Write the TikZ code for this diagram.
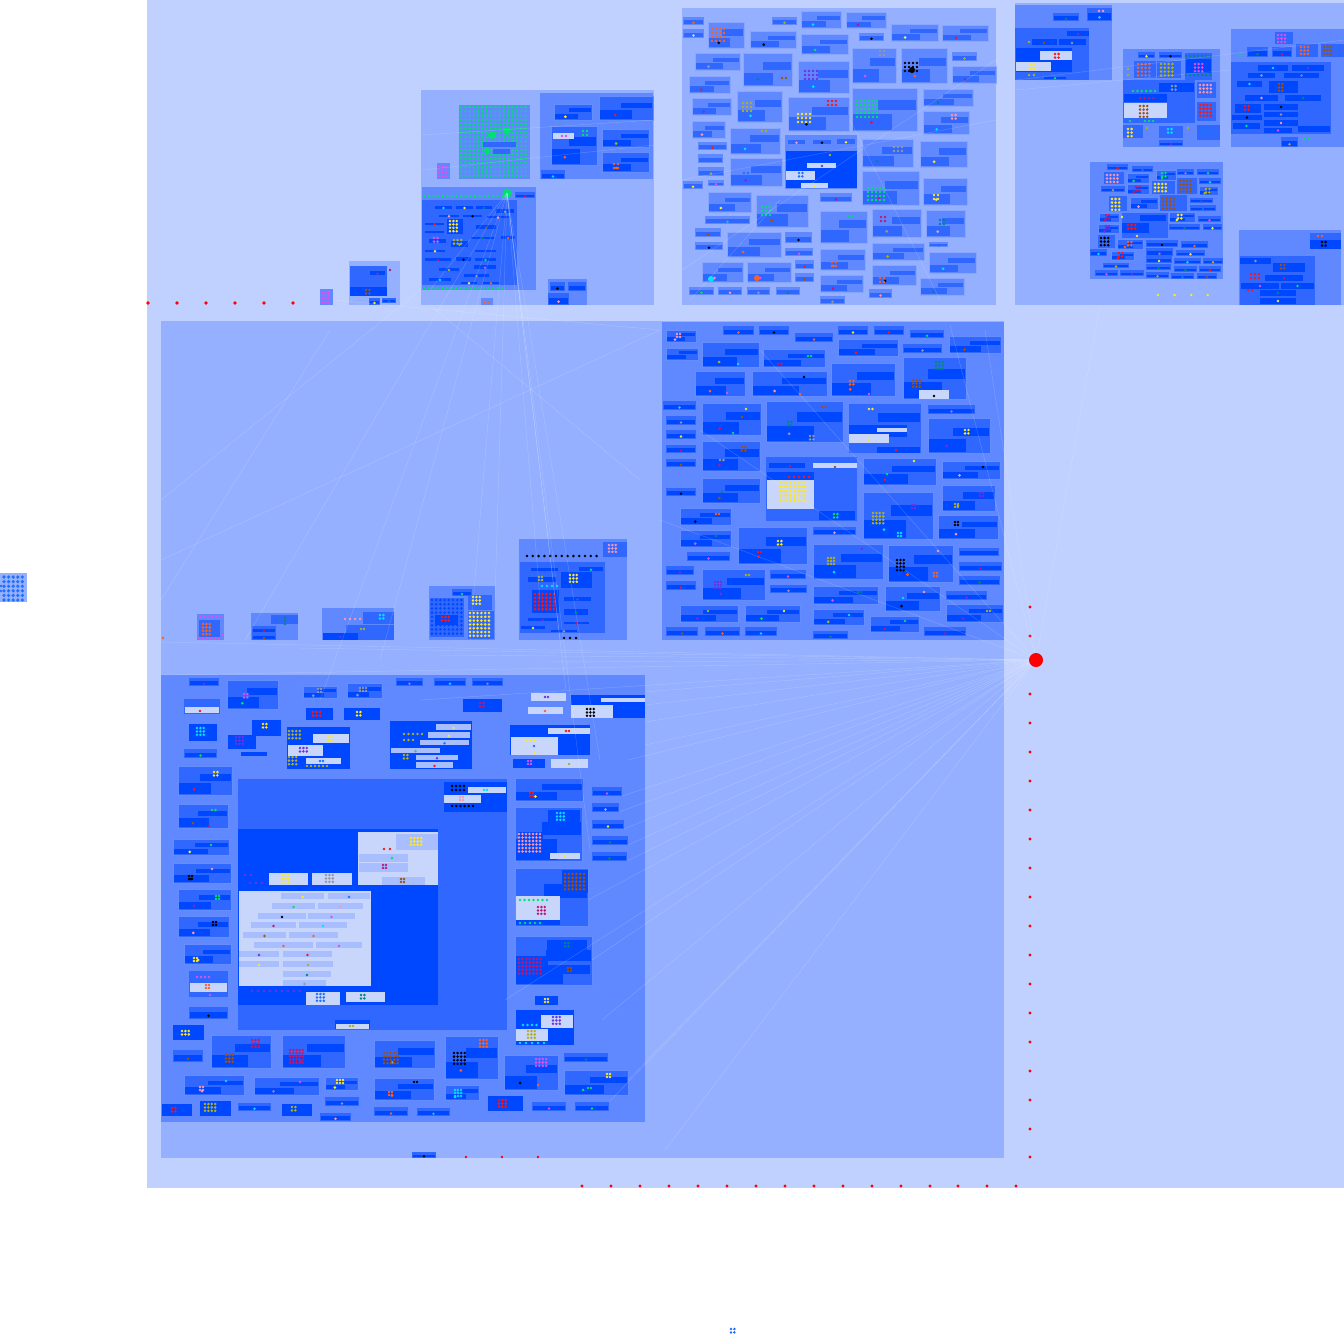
\documentclass[tikz,border=0pt]{standalone}
\definecolor{cLa}{RGB}{192,208,255}
\definecolor{cLb}{RGB}{148,176,255}
\definecolor{cLc}{RGB}{96,136,255}
\definecolor{cLd}{RGB}{48,104,255}
\definecolor{cLe}{RGB}{0,72,255}
\definecolor{cPl}{RGB}{200,214,252}
\definecolor{cPb}{RGB}{168,190,255}
\definecolor{dR}{RGB}{255,20,20}
\definecolor{dO}{RGB}{255,96,32}
\definecolor{dY}{RGB}{255,232,40}
\definecolor{dG}{RGB}{0,224,112}
\definecolor{dC}{RGB}{0,224,255}
\definecolor{dP}{RGB}{255,150,170}
\definecolor{dM}{RGB}{224,80,240}
\definecolor{dV}{RGB}{112,48,224}
\definecolor{dB}{RGB}{160,80,16}
\definecolor{dL}{RGB}{176,176,32}
\definecolor{dT}{RGB}{0,136,120}
\definecolor{dK}{RGB}{0,0,0}
\definecolor{dA}{RGB}{150,150,165}
\definecolor{dU}{RGB}{32,112,255}
\definecolor{dX}{RGB}{192,24,112}
% block: x1 y1 x2 y2 colour
\newcommand{\bk}[5]{\fill[#5] (#1,#2) rectangle (#3,#4);}
% sub-block with two bars, outer L3 / bars L4
\newcommand{\sba}[5]{%
 \fill[cLc] (#1,#2) rectangle (#3,#4);
 \draw[cLc!75!white,line width=0.35pt] (#1,#2) rectangle (#3,#4);
 \fill[cLd] ({#1+0.4*(#3-#1)},{#2+0.28*(#4-#2)}) rectangle ({#3-1},{#2+0.52*(#4-#2)});
 \fill[cLd] ({#1+1},{#2+0.6*(#4-#2)}) rectangle ({#1+0.62*(#3-#1)},{#4-1});
 \fill[#5] ({#1+0.3*(#3-#1)},{#2+0.8*(#4-#2)}) circle (1.5);}
\newcommand{\ssa}[5]{%
 \fill[cLc] (#1,#2) rectangle (#3,#4);
 \fill[cLd] ({#1+1},{#2+0.42*(#4-#2)}) rectangle ({#3-1},{#4-1});
 \fill[#5] ({0.5*(#1+#3)},{#2+0.72*(#4-#2)}) circle (1.4);}
% outer L4 / bars L5
\newcommand{\sbb}[5]{%
 \fill[cLd] (#1,#2) rectangle (#3,#4);
 \draw[cLd!75!white,line width=0.35pt] (#1,#2) rectangle (#3,#4);
 \fill[cLe] ({#1+0.4*(#3-#1)},{#2+0.28*(#4-#2)}) rectangle ({#3-1},{#2+0.52*(#4-#2)});
 \fill[cLe] ({#1+1},{#2+0.6*(#4-#2)}) rectangle ({#1+0.62*(#3-#1)},{#4-1});
 \fill[#5] ({#1+0.3*(#3-#1)},{#2+0.8*(#4-#2)}) circle (1.5);}
\newcommand{\ssb}[5]{%
 \fill[cLd] (#1,#2) rectangle (#3,#4);
 \fill[cLe] ({#1+1},{#2+0.42*(#4-#2)}) rectangle ({#3-1},{#4-1});
 \fill[#5] ({0.5*(#1+#3)},{#2+0.72*(#4-#2)}) circle (1.4);}
% pale bar with dot
\newcommand{\pb}[5]{%
 \fill[cPb] (#1,#2) rectangle (#3,#4);
 \fill[#5] ({0.5*(#1+#3)},{#2+0.65*(#4-#2)}) circle (1.4);}
% dot grid: x y cols rows colour step
\newcommand{\dg}[6]{%
 \foreach \ii in {1,...,#3}{\foreach \jj in {1,...,#4}{%
  \fill[#5] ({#1+(\ii-1)*#6},{#2+(\jj-1)*#6}) circle (1.4);}}}
\begin{document}
\begin{tikzpicture}[x=1pt,y=-1pt,
  link/.style={draw=white,opacity=0.2,line width=0.45pt}]
\useasboundingbox (0,0) rectangle (1344,1334);
\fill[white] (0,0) rectangle (1344,1334);
% ===== outer frame =====
\bk{147}{0}{1344}{1188}{cLa}
% left stray block and bottom stray
\bk{0}{573}{27}{602}{cLb}
\foreach \ii in {1,...,5}{\foreach \jj in {1,...,6}{\fill[dU] ({4+(\ii-1)*4.6},{577+(\jj-1)*4.6}) circle (1.8);}}
\dg{1}{586}{1}{2}{dU}{5}
\dg{731}{1329}{2}{2}{dU}{3.4}
% ===== top-left cluster =====
\bk{421}{90}{654}{305}{cLb}
\bk{459}{105}{530}{179}{cLc}
\dg{461}{107}{16}{17}{dG}{4.3}
\fill[dG] (492,135) circle (4); \fill[dG] (507,131) circle (4); \fill[dG] (487,151) circle (3);
\bk{483}{142}{516}{147}{cLd}\bk{493}{149}{510}{154}{cLd}
\bk{437}{163}{450}{179}{cLc}\dg{439}{166}{3}{4}{dM}{3.4}
\bk{540}{93}{653}{179}{cLc}
\sbb{554}{104}{592}{120}{dY}
\sbb{599}{96}{653}{120}{dR}
\sbb{551}{126}{597}{165}{dO}
\fill[cPl] (553,133) rectangle (574,139); \dg{562}{136}{2}{1}{dM}{4}
\dg{583}{131}{2}{2}{dG}{4}
\sbb{602}{129}{649}{147}{dL}
\sbb{602}{152}{649}{172}{dO}\dg{614}{164}{2}{2}{dO}{4}
\ssb{541}{170}{565}{179}{dC}
\bk{422}{187}{536}{290}{cLc}
\bk{422}{200}{517}{285}{cLd}
\dg{424}{196}{18}{1}{dG}{4.6}
\dg{424}{288}{18}{1}{dG}{4.6}
\fill[dG] (507,193) circle (4.5);
\ssb{515}{192}{535}{198}{dX}
\ssb{434}{203}{453}{210}{dC}\ssb{455}{203}{474}{210}{dY}\ssb{475}{203}{493}{210}{dT}
\ssb{438}{212}{460}{218}{dP}\ssb{462}{212}{483}{218}{dK}\ssb{495}{206}{515}{214}{dA}
\ssb{424}{220}{445}{226}{dR}\ssb{424}{228}{445}{234}{cLe}
\bk{447}{219}{463}{234}{cLe}\dg{450}{221}{3}{4}{dY}{3.4}
\ssb{475}{222}{497}{230}{dB}\ssb{486}{214}{510}{219}{dP}
\ssb{428}{236}{447}{244}{dM}\dg{434}{238}{2}{2}{dM}{3.6}
\ssb{450}{236}{469}{248}{dL}\dg{454}{240}{3}{2}{dL}{3.6}
\ssb{470}{234}{495}{240}{dT}\ssb{500}{233}{516}{240}{dO}
\ssb{424}{247}{446}{253}{dY}\ssb{424}{255}{452}{262}{dX}
\ssb{455}{254}{472}{262}{dK}\ssb{474}{247}{497}{253}{dV}\ssb{474}{255}{497}{262}{dG}
\ssb{438}{265}{460}{272}{dL}\ssb{473}{262}{497}{270}{dM}
\ssb{428}{275}{452}{282}{dC}\ssb{463}{271}{490}{278}{dA}
\ssb{460}{279}{478}{285}{dY}\ssb{482}{279}{500}{285}{dO}
\bk{548}{279}{587}{305}{cLc}
\ssb{550}{282}{565}{291}{dK}\ssb{568}{282}{586}{291}{cLe}
\ssb{548}{293}{569}{305}{dP}
\bk{481}{298}{493}{305}{cLc}\dg{484}{302}{2}{1}{dO}{4}
% small blocks left of it
\bk{349}{261}{400}{305}{cLb}
\bk{350}{266}{387}{296}{cLd}
\bk{350}{287}{387}{296}{cLe}
\ssb{369}{268}{386}{276}{dR}\fill[dX] (390,270) circle (1.4);
\dg{366}{290}{2}{2}{dB}{3.5}
\ssb{369}{298}{380}{305}{dY}
\ssb{382}{298}{396}{303}{dU}
\bk{320}{289}{333}{305}{cLc}\dg{322}{292}{3}{4}{dM}{3.4}
\foreach \xx in {148,177,206,235,264,293} \fill[red] (\xx,303) circle (1.8);
% ===== top-middle cluster =====
\bk{682}{8}{996}{305}{cLb}
\ssa{683}{17}{704}{25}{dO}\ssa{683}{29}{704}{38}{dY}
\sba{708}{22}{744}{48}{dK}\dg{712}{29}{4}{4}{dO}{4}
\sba{695}{53}{740}{70}{dA}
\sba{689}{76}{730}{93}{dR}
\sba{692}{98}{731}{115}{dV}
\sba{692}{121}{725}{138}{dP}
\ssa{698}{142}{727}{150}{dR}\ssa{698}{154}{723}{163}{dU}\ssa{698}{167}{724}{176}{dL}
\ssa{683}{181}{703}{189}{dY}\ssa{708}{180}{724}{186}{dM}
\sba{708}{192}{751}{212}{dY}
\ssa{705}{216}{750}{224}{dG}
\ssa{695}{228}{721}{237}{dB}\ssa{695}{242}{723}{250}{dK}
\sba{702}{262}{743}{282}{dP}\fill[dC] (711,279) circle (3);
\ssa{689}{287}{714}{295}{dG}\ssa{718}{287}{742}{295}{dP}\ssa{747}{287}{770}{295}{dA}\ssa{776}{287}{800}{295}{dT}
\sba{750}{31}{796}{48}{dK}
\sba{743}{53}{792}{86}{dT}\dg{782}{78}{2}{1}{dB}{4}
\ssa{772}{17}{797}{25}{dL}
\sba{801}{11}{841}{28}{dC}
\sba{846}{12}{886}{28}{dX}
\sba{801}{34}{848}{54}{dG}
\sba{798}{61}{849}{93}{dC}\dg{805}{71}{4}{3}{dV}{4}
\ssa{859}{33}{884}{41}{dK}
\sba{891}{24}{938}{41}{dY}
\sba{942}{25}{988}{41}{dR}
\sba{852}{48}{896}{83}{dM}\dg{880}{51}{2}{2}{dA}{4}
\sba{901}{48}{947}{83}{dO}\dg{905}{63}{4}{3}{dK}{4}\fill[dK] (912,70) circle (3);
\ssa{952}{52}{977}{61}{dL}
\sba{952}{66}{996}{83}{dX}
\sba{737}{91}{782}{122}{dC}\dg{743}{103}{3}{3}{dL}{4}
\sba{788}{97}{849}{131}{dK}\dg{798}{114}{4}{3}{dY}{4}\dg{828}{101}{3}{2}{dR}{4}
\sba{852}{88}{917}{131}{dX}\dg{857}{101}{6}{5}{dG}{4}
\sba{923}{89}{973}{106}{dT}
\sba{923}{111}{969}{134}{dC}\dg{952}{115}{2}{2}{dP}{3.6}
\sba{730}{128}{780}{154}{dC}\dg{762}{131}{2}{1}{dL}{4}
\bk{785}{135}{857}{189}{cLc}
\bk{786}{151}{857}{188}{cLe}
\ssa{787}{137}{806}{145}{dP}\ssa{812}{137}{832}{145}{dK}\ssa{836}{135}{856}{145}{dY}
\fill[cPl] (807,163) rectangle (836,168);\fill[dV] (822,166) circle (1.4);
\fill[cPl] (786,171) rectangle (815,180);\dg{799}{173}{2}{2}{dU}{3.4}
\fill[cPl] (801,183) rectangle (828,188);\fill[dY] (814,186) circle (1.4);
\fill[dL] (830,155) circle (1.4);
\sba{862}{139}{913}{167}{dT}\dg{894}{147}{3}{2}{dA}{4}
\sba{920}{141}{967}{167}{dY}
\sba{730}{158}{782}{186}{dV}\dg{744}{173}{2}{2}{dU}{4}
\sba{862}{171}{919}{205}{dX}\dg{868}{188}{5}{4}{dG}{4}
\sba{923}{178}{967}{205}{dY}\dg{934}{195}{2}{2}{dY}{4}
\sba{756}{195}{808}{227}{dB}\dg{762}{207}{3}{3}{dG}{4}
\ssa{820}{193}{852}{202}{dX}
\sba{820}{211}{867}{243}{dU}\dg{848}{216}{2}{1}{dG}{4}
\sba{872}{209}{921}{237}{dA}\dg{881}{217}{2}{2}{dX}{4}
\sba{926}{210}{965}{237}{dP}\dg{940}{220}{2}{2}{dT}{4}
\sba{727}{232}{781}{257}{dO}
\ssa{785}{232}{812}{243}{dK}\ssa{785}{248}{813}{256}{dM}
\sba{747}{262}{791}{282}{dM}\fill[dO] (757,278) circle (3);
\ssa{795}{260}{814}{269}{dR}\ssa{795}{273}{814}{282}{dB}
\sba{820}{249}{865}{270}{dO}\dg{832}{262}{2}{2}{dO}{4}
\sba{820}{275}{863}{292}{dX}
\ssa{820}{296}{845}{304}{dA}
\sba{872}{243}{924}{260}{dL}
\sba{872}{265}{916}{285}{dK}\dg{880}{278}{2}{2}{dO}{4}
\ssa{869}{289}{892}{298}{dP}
\ssa{929}{242}{948}{247}{cLd}
\sba{929}{252}{976}{273}{dC}
\sba{920}{278}{964}{295}{dT}
% ===== top-right cluster =====
\bk{1015}{3}{1344}{305}{cLb}
% block A
\bk{1015}{5}{1112}{80}{cLc}
\ssb{1087}{8}{1112}{21}{dC}\dg{1099}{11}{2}{1}{dP}{4}
\ssb{1053}{13}{1079}{21}{dT}
\bk{1015}{28}{1089}{80}{cLd}
\bk{1016}{48}{1072}{72}{cLe}
\fill[cPl] (1040,51) rectangle (1072,60);\dg{1055}{54}{2}{2}{dR}{3.6}
\fill[cPl] (1016,62) rectangle (1051,71);\dg{1030}{65}{2}{2}{dY}{3.6}
\bk{1067}{31}{1089}{36}{cLe}\bk{1032}{39}{1057}{45}{cLe}\bk{1059}{39}{1086}{45}{cLe}
\fill[dV] (1078,34) circle (1.3);\fill[dB] (1044,43) circle (1.3);\fill[dA] (1072,43) circle (1.3);
\fill[dL] (1029,42) circle (1.3);\dg{1029}{75}{2}{1}{dL}{5}
\ssb{1043}{74}{1067}{80}{dG}
% block B
\bk{1123}{49}{1220}{147}{cLc}
\ssb{1138}{52}{1155}{58}{dY}\ssb{1159}{52}{1182}{58}{dK}
\bk{1185}{53}{1212}{80}{cLd}\dg{1186}{56}{7}{1}{dT}{4}\bk{1186}{59}{1211}{73}{cLe}\dg{1195}{64}{3}{3}{dM}{3.6}\dg{1186}{75}{7}{1}{dT}{4}
\bk{1134}{61}{1156}{78}{cLd}\dg{1138}{64}{4}{4}{dO}{3.8}
\bk{1157}{61}{1181}{78}{cLd}\dg{1161}{64}{4}{4}{dL}{3.8}
\dg{1128}{69}{1}{2}{dL}{6}
\bk{1123}{80}{1195}{123}{cLd}
\bk{1159}{83}{1194}{92}{cLe}\dg{1172}{86}{2}{2}{dA}{3.6}
\dg{1133}{91}{6}{1}{dG}{4.4}
\bk{1124}{94}{1167}{102}{cLe}\dg{1140}{98}{4}{1}{dX}{4.5}
\fill[cPl] (1124,103) rectangle (1167,118);\dg{1140}{106}{3}{4}{dB}{3.6}
\dg{1130}{121}{1}{1}{dG}{4}\dg{1145}{121}{3}{1}{dG}{4}
\bk{1197}{82}{1216}{98}{cLd}\dg{1200}{85}{4}{3}{dP}{3.6}
\bk{1197}{102}{1216}{121}{cLd}\dg{1200}{105}{4}{4}{dR}{3.6}
\bk{1123}{125}{1143}{138}{cLd}\dg{1128}{129}{2}{3}{dY}{3.6}
\bk{1159}{126}{1183}{138}{cLd}\dg{1168}{129}{2}{2}{dC}{3.6}
\ssb{1159}{140}{1183}{146}{dV}
\bk{1197}{125}{1220}{140}{cLd}\dg{1200}{128}{4}{3}{dU}{3.6}
\fill[dL] (1147,128) circle (1.3);\fill[dL] (1188,128) circle (1.3);
% block C
\bk{1231}{29}{1344}{147}{cLc}
\bk{1275}{32}{1293}{44}{cLd}\dg{1278}{35}{3}{3}{dM}{3.5}
\ssb{1247}{47}{1268}{57}{dT}\ssb{1272}{47}{1292}{57}{dX}
\bk{1296}{44}{1318}{57}{cLd}\dg{1301}{47}{3}{3}{dO}{3.5}
\bk{1321}{44}{1344}{57}{cLd}\dg{1324}{47}{3}{3}{dB}{3.5}
\dg{1240}{55}{1}{1}{dG}{4}
\bk{1231}{62}{1331}{134}{cLd}
\foreach \a/\b/\c/\d/\e in {1258/65/1288/71/dC,1292/65/1324/71/dV,1248/73/1275/78/dL,1284/73/1319/78/dO,1237/81/1262/87/dC,1245/95/1278/101/dP,1285/95/1321/101/dT,1264/104/1298/110/dK,1264/112/1298/117/dA,1232/115/1262/120/dK,1264/120/1298/126/dP,1233/123/1260/129/dG,1264/128/1292/133/dM,1298/126/1330/132/cLe}{%
  \fill[cLe] (\a,\b) rectangle (\c,\d); \fill[\e] ({0.5*(\a+\c)},{0.5*(\b+\d)}) circle (1.3);}
\bk{1269}{81}{1298}{93}{cLe}\dg{1279}{84}{2}{3}{dB}{3.4}
\bk{1235}{104}{1261}{113}{cLe}\dg{1245}{106}{2}{2}{dR}{3.6}
\ssb{1281}{137}{1298}{147}{dA}
\dg{1304}{139}{2}{1}{dG}{5}
% block D
\bk{1090}{162}{1223}{279}{cLc}
\foreach \a/\b/\c/\d/\e in {1107/164/1128/170/dR,1132/166/1153/172/dU,1177/169/1194/175/dM,1197/169/1219/175/dG,1101/186/1125/192/dA,1199/178/1221/184/dC,1190/198/1213/203/dV,1190/205/1216/211/dU,1198/216/1221/222/dM,1169/224/1200/230/dT,1203/224/1222/230/dY,1146/240/1178/247/dK,1181/241/1208/248/dO,1146/248/1173/256/dO,1176/250/1205/256/dY,1146/256/1172/263/dY,1174/258/1201/264/dC,1203/258/1223/264/dL,1103/263/1129/268/dL,1146/264/1171/270/dT,1174/266/1197/272/dT,1199/266/1221/272/dR,1095/270/1118/276/dM,1120/270/1144/276/dV,1146/272/1169/278/dA,1171/273/1194/279/dU,1197/273/1217/279/dB,1090/249/1107/256/dC}{\ssb{\a}{\b}{\c}{\d}{\e}}
\bk{1104}{172}{1124}{184}{cLd}\dg{1107}{175}{4}{3}{dP}{3.5}
\sbb{1127}{173}{1149}{183}{dG}
\sbb{1156}{170}{1176}{180}{dG}\dg{1162}{173}{2}{2}{dG}{3.5}
\sbb{1127}{184}{1149}{194}{dX}\dg{1136}{187}{2}{2}{dX}{3.5}
\bk{1152}{181}{1175}{194}{cLd}\dg{1155}{184}{4}{3}{dY}{3.6}
\bk{1177}{178}{1197}{194}{cLd}\dg{1180}{181}{4}{4}{dB}{3.5}
\sbb{1199}{186}{1218}{195}{dL}\dg{1206}{189}{2}{2}{dL}{3.4}
\bk{1109}{196}{1127}{211}{cLd}\dg{1112}{199}{3}{4}{dY}{3.6}
\sbb{1130}{197}{1158}{209}{dP}
\bk{1160}{195}{1187}{211}{cLd}\dg{1163}{198}{4}{4}{dB}{3.6}
\sbb{1099}{213}{1119}{222}{dX}\dg{1106}{215}{2}{2}{dX}{3}
\bk{1122}{213}{1168}{238}{cLd}\bk{1122}{223}{1149}{233}{cLe}\dg{1128}{225}{3}{2}{dR}{3.6}\bk{1140}{215}{1166}{221}{cLe}
\dg{1122}{217}{1}{1}{dY}{3}\fill[dY] (1137,236) circle (1.3);
\sbb{1169}{212}{1195}{222}{dY}\dg{1178}{215}{2}{2}{dY}{3.4}
\sbb{1098}{224}{1119}{233}{dV}\dg{1106}{226}{2}{2}{dV}{3}
\bk{1098}{235}{1115}{248}{cLd}\dg{1101}{238}{3}{3}{dK}{3.6}
\sbb{1117}{239}{1143}{249}{dO}\dg{1128}{242}{2}{2}{dO}{3.4}
\sbb{1111}{251}{1134}{260}{dR}\dg{1119}{253}{2}{2}{dR}{3.4}
\dg{1158}{295}{4}{1}{dY}{16.6}
% block E
\bk{1239}{230}{1341}{305}{cLc}
\bk{1310}{233}{1341}{240}{cLd}\dg{1318}{236}{2}{1}{dO}{4}
\bk{1310}{240}{1341}{249}{cLe}\dg{1322}{242}{2}{2}{dK}{3.6}
\bk{1240}{256}{1315}{305}{cLd}
\foreach \a/\b/\c/\d/\e in {1240/258/1271/264/dA,1265/275/1303/281/dX,1241/283/1279/289/dM,1281/283/1314/289/dG,1260/290/1296/296/dT,1260/298/1296/304/dY}{%
  \fill[cLe] (\a,\b) rectangle (\c,\d); \fill[\e] ({0.5*(\a+\c)},{0.5*(\b+\d)}) circle (1.3);}
\bk{1273}{263}{1305}{272}{cLe}\dg{1281}{265}{2}{2}{dB}{3.4}
\dg{1251}{274}{3}{2}{dR}{4}\dg{1248}{290}{2}{1}{dR}{4}
% ===== middle big block =====
\bk{161}{321}{1004}{1158}{cLb}
% mid-right cluster
\bk{662}{322}{1004}{640}{cLc}
\foreach \a/\b/\c/\d/\e in {723/326/754/335/dO,759/326/789/335/dK,795/333/833/342/dO,838/326/868/335/dY,874/326/904/335/dR,910/330/944/338/dG,903/344/942/353/dA,663/401/696/410/dL,666/416/696/425/dA,666/430/696/439/dY,666/445/696/453/dX,666/459/696/467/dB,666/488/696/496/dK,928/405/975/414/dM,687/552/730/561/dM,813/527/856/535/dP,959/548/999/556/cLe,959/562/1002/571/dX,959/576/1000/585/dT,666/566/694/575/dV,666/581/696/590/dR,770/570/806/579/dM,770/585/807/593/dA,946/591/987/600/dV,924/627/966/636/dX,666/627/698/636/dB,705/627/740/636/dO,745/627/777/636/dC,813/631/848/639/dT}{\ssb{\a}{\b}{\c}{\d}{\e}}
\sbb{666}{330}{696}{342}{dP}\dg{677}{334}{2}{2}{dP}{3}
\sbb{666}{348}{698}{360}{cLe}
\sbb{702}{342}{759}{367}{dL}\fill[dC] (738,364) circle (1.4);
\sbb{763}{349}{825}{367}{dX}\dg{778}{364}{2}{1}{dX}{3}\dg{808}{356}{2}{1}{dG}{3}
\sbb{838}{339}{898}{356}{dR}
\sbb{949}{336}{1001}{353}{dB}
\sbb{695}{371}{745}{396}{dO}\fill[dM] (727,393) circle (1.4);
\sbb{752}{371}{827}{396}{dP}\fill[dK] (804,377) circle (1.4);\fill[dO] (800,394) circle (1.4);
\sbb{831}{363}{895}{396}{dO}\dg{850}{381}{2}{2}{dO}{3.4}\fill[dM] (869,394) circle (1.4);
\sbb{903}{357}{966}{399}{dB}\dg{913}{380}{3}{3}{dB}{3.4}\dg{936}{362}{3}{3}{dT}{3.4}
\fill[cPl] (919,390) rectangle (949,399);\fill[dK] (934,396) circle (1.4);
\sbb{702}{403}{761}{435}{dX}\fill[dY] (746,409) circle (1.4);\fill[dB] (742,417) circle (1.4);\fill[dG] (733,433) circle (1.4);
\sbb{766}{401}{843}{442}{dA}\dg{788}{422}{2}{2}{dT}{3.4}\dg{822}{407}{2}{1}{dB}{3.4}\dg{810}{436}{2}{2}{dA}{3.4}
\bk{849}{404}{921}{453}{cLd}\dg{869}{409}{2}{1}{dY}{3.4}\bk{878}{413}{920}{422}{cLe}
\bk{849}{425}{907}{437}{cLe}\fill[cPl] (877,428) rectangle (907,432);\fill[cPl] (849,434) rectangle (889,443);\fill[dY] (869,440) circle (1.4);
\bk{877}{447}{920}{453}{cLe}\fill[dR] (896,450) circle (1.4);
\sbb{928}{418}{990}{453}{dV}\dg{965}{430}{2}{2}{dY}{3.4}
\sbb{702}{441}{760}{471}{dX}\dg{742}{447}{2}{2}{dB}{3.4}\dg{720}{460}{2}{1}{dA}{3.4}
\bk{766}{457}{857}{521}{cLd}
\bk{767}{472}{814}{509}{cLe}\fill[cPl] (767,480) rectangle (814,509);
\dg{780}{483}{8}{6}{dY}{3.6}
\dg{789}{477}{5}{1}{dR}{5}
\fill[cPl] (813,463) rectangle (857,468);\fill[dB] (835,467) circle (1.3);
\bk{769}{463}{805}{468}{cLe}\fill[dX] (790,466) circle (1.3);
\bk{819}{511}{855}{520}{cLe}\dg{834}{514}{2}{2}{dG}{3.4}
\sbb{702}{478}{760}{503}{dB}\fill[dT] (722,492) circle (1.3);
\sbb{863}{458}{936}{485}{dR}\fill[dY] (914,461) circle (1.3);\fill[dG] (887,474) circle (1.3);
\sbb{942}{461}{1000}{479}{dP}\fill[dK] (983,467) circle (1.3);
\sbb{863}{492}{933}{539}{dC}\dg{873}{513}{4}{4}{dL}{3.4}\dg{912}{505}{2}{2}{dV}{3}\dg{898}{533}{2}{2}{dC}{3}
\sbb{942}{485}{995}{511}{dL}\dg{955}{504}{2}{2}{dL}{3}\dg{980}{493}{2}{2}{dV}{3}
\sbb{938}{515}{998}{539}{dP}\dg{955}{522}{2}{2}{dK}{3}
\sbb{680}{508}{731}{525}{dK}\dg{716}{514}{2}{1}{dO}{3}
\sbb{680}{530}{731}{547}{dM}\fill[dT] (716,536) circle (1.3);
\sbb{738}{527}{807}{564}{dR}\dg{778}{541}{2}{2}{dY}{3.4}\dg{758}{552}{2}{1}{dR}{3}
\sbb{813}{544}{883}{579}{dC}\dg{828}{558}{3}{3}{dL}{3}\fill[dV] (862,549) circle (1.3);
\sbb{888}{545}{953}{582}{dO}\dg{897}{560}{3}{4}{dK}{3.4}\dg{934}{573}{2}{2}{dO}{3}\fill[dP] (938,551) circle (1.3);
\sbb{702}{569}{765}{600}{dV}\dg{715}{582}{3}{3}{dV}{3}\dg{746}{575}{2}{1}{dL}{3}
\sbb{813}{586}{878}{604}{dM}\dg{858}{592}{2}{1}{dT}{3}
\sbb{885}{586}{940}{611}{dK}\fill[dP] (924,592) circle (1.3);\fill[dC] (903,598) circle (1.3);
\sbb{946}{604}{1003}{622}{dV}\dg{987}{611}{2}{1}{dL}{3}
\sbb{680}{605}{738}{622}{dV}\fill[dL] (708,611) circle (1.3);
\sbb{745}{605}{800}{622}{dG}\fill[dY] (784,611) circle (1.3);
\sbb{813}{609}{864}{625}{dL}\fill[dC] (849,615) circle (1.3);
\sbb{870}{616}{919}{632}{dX}\fill[dG] (905,621) circle (1.3);
% small blocks bottom row of upper mid
\bk{197}{614}{224}{640}{cLc}\dg{200}{617}{6}{1}{dM}{4}\bk{199}{620}{220}{637}{cLd}\dg{203}{624}{3}{4}{dO}{3.4}\dg{199}{638}{6}{1}{dM}{4}\fill[dM] (223,635) circle (1.3);
\fill[dO] (163,638) circle (1.3);
\bk{251}{613}{298}{640}{cLc}\bk{271}{615}{298}{624}{cLd}\dg{285}{618}{1}{3}{dT}{3}\ssb{252}{626}{276}{633}{dX}\ssb{252}{633}{276}{640}{dB}
\bk{322}{608}{394}{640}{cLc}\dg{345}{619}{4}{1}{dP}{5}\bk{363}{612}{394}{624}{cLd}\dg{380}{615}{2}{2}{dC}{3.4}
\bk{346}{625}{394}{640}{cLd}\dg{361}{629}{2}{1}{dL}{3}\bk{323}{633}{358}{640}{cLe}\fill[dV] (340,637) circle (1.3);
\bk{429}{586}{495}{640}{cLc}
\bk{430}{598}{464}{637}{cLd}\dg{432}{600}{8}{9}{cLe}{4.2}\bk{435}{615}{458}{625}{cLe}\dg{442}{617}{3}{2}{dR}{3.4}
\ssb{452}{589}{472}{596}{dG}\bk{468}{595}{492}{610}{cLd}\dg{473}{597}{3}{3}{dY}{3.4}
\bk{468}{611}{494}{639}{cLd}\dg{470}{613}{6}{7}{dY}{3.8}
% block with red grid
\bk{519}{539}{627}{640}{cLc}
\dg{527}{556}{13}{1}{dK}{5.8}
\bk{603}{542}{627}{557}{cLd}\dg{609}{545}{3}{3}{dP}{3.4}
\bk{520}{562}{605}{633}{cLd}
\ssb{530}{565}{559}{572}{cLe}\ssb{578}{564}{604}{572}{dG}
\ssb{527}{573}{557}{583}{dL}\dg{539}{577}{2}{2}{dL}{3}
\dg{542}{586}{4}{1}{dC}{5}
\bk{561}{572}{592}{588}{cLe}\dg{570}{575}{3}{3}{dY}{3.4}
\bk{532}{590}{559}{613}{cLe}\dg{535}{594}{6}{5}{dR}{3.8}
\ssb{563}{593}{592}{602}{dB}\ssb{563}{604}{589}{616}{dT}
\ssb{527}{615}{558}{622}{dV}\ssb{563}{619}{590}{625}{dX}
\ssb{520}{623}{546}{630}{dY}\ssb{550}{627}{578}{633}{dA}
\dg{564}{638}{3}{1}{dK}{6}
% ===== bottom-left cluster =====
\bk{161}{675}{645}{1122}{cLc}
\foreach \a/\b/\c/\d/\e in {189/678/219/686/dV,396/678/423/686/dM,434/678/466/686/dC,472/678/503/686/dO,184/749/217/758/dG,592/787/622/796/dM,592/803/619/812/dP,592/820/624/829/dY,592/836/628/845/dT,592/852/627/861/dT,189/1007/228/1019/dK,564/1053/608/1062/dT,325/1097/359/1106/dA,374/1107/408/1116/dO,417/1108/450/1116/dG,238/1103/271/1111/dC,532/1102/566/1111/dM,575/1102/609/1111/dG,320/1113/351/1121/dP}{\ssb{\a}{\b}{\c}{\d}{\e}}
\sbb{227}{680}{278}{709}{dG}\dg{244}{694}{2}{2}{dM}{3.4}
\sbb{303}{686}{337}{698}{dA}\dg{318}{689}{2}{2}{dA}{3}
\sbb{347}{683}{382}{698}{dA}\dg{360}{688}{3}{2}{dA}{3}
\bk{184}{699}{220}{714}{cLd}\fill[cPl] (185,707) rectangle (219,713);\fill[dR] (200,711) circle (1.3);
\bk{189}{724}{217}{741}{cLe}\dg{197}{728}{3}{3}{dC}{3.4}
\bk{227}{716}{281}{758}{cLc}\bk{252}{720}{281}{736}{cLe}\dg{263}{724}{2}{2}{dY}{3.4}\bk{228}{735}{256}{749}{cLe}\dg{236}{737}{3}{3}{dV}{3.4}\bk{241}{752}{267}{756}{cLe}
% block with pale bars
\bk{287}{705}{381}{769}{cLc}
\bk{306}{708}{333}{720}{cLe}\dg{313}{712}{3}{2}{dR}{3.6}
\bk{344}{708}{380}{720}{cLe}\dg{357}{712}{2}{2}{dY}{3.4}
\bk{287}{727}{350}{769}{cLe}
\dg{289}{731}{4}{3}{dL}{3.6}\dg{289}{757}{3}{3}{dL}{3.6}
\fill[cPl] (313,734) rectangle (349,743);\dg{328}{737}{2}{2}{dY}{3.4}
\fill[cPl] (288,745) rectangle (323,756);\dg{300}{748}{3}{2}{dV}{3.4}
\fill[cPl] (306,758) rectangle (341,764);\dg{320}{761}{2}{1}{dU}{3}
\dg{307}{766}{6}{1}{dL}{4}
\bk{390}{696}{503}{769}{cLc}
\bk{463}{699}{502}{712}{cLe}\dg{480}{703}{2}{2}{dX}{3.4}
\bk{390}{721}{472}{769}{cLe}
\dg{404}{734}{5}{1}{dL}{4.5}\dg{404}{740}{3}{1}{dL}{4.5}
\foreach \a/\b/\c/\d/\e in {436/724/471/730/dY,428/732/470/738/dY,420/740/469/745/dU,391/748/440/753/dG,416/755/458/760/dV,416/762/453/768/dR}{\pb{\a}{\b}{\c}{\d}{\e}}
\dg{404}{755}{2}{2}{dL}{3.4}
\bk{510}{689}{645}{769}{cLc}
\bk{571}{695}{645}{718}{cLe}
\fill[cPl] (531,693) rectangle (566,701);\dg{545}{697}{2}{1}{dV}{3}
\fill[cPl] (528,707) rectangle (563,714);\fill[dO] (545,711) circle (1.3);
\fill[cPl] (571,705) rectangle (613,718);\dg{587}{709}{3}{3}{dK}{3.4}
\fill[cPl] (601,698) rectangle (645,702);
\bk{510}{725}{590}{755}{cLe}
\fill[cPl] (548,728) rectangle (590,734);\dg{566}{731}{2}{1}{dR}{3}
\fill[cPl] (511,737) rectangle (558,750);\dg{527}{741}{3}{1}{dY}{4}\fill[dU] (534,746) circle (1.3);
\fill[cPl] (511,750) rectangle (558,755);\fill[dY] (535,753) circle (1.3);
\bk{513}{759}{545}{768}{cLe}\dg{528}{761}{2}{2}{dM}{3}
\fill[cPl] (551,759) rectangle (588,768);\fill[dL] (569,764) circle (1.3);
% left column
\sbb{178}{766}{232}{795}{dR}\dg{214}{772}{2}{2}{dY}{3.4}
\sbb{178}{804}{228}{828}{dB}\dg{212}{810}{2}{1}{dG}{3.4}\fill[dX] (209,826) circle (1.3);
\sbb{173}{839}{229}{855}{dY}\fill[dG] (211,845) circle (1.3);
\sbb{173}{863}{231}{883}{dK}\dg{189}{876}{2}{2}{dK}{3}\fill[dP] (212,869) circle (1.3);
\sbb{178}{889}{231}{910}{dX}\dg{216}{896}{2}{2}{dG}{3}
\sbb{178}{916}{229}{937}{dP}\dg{213}{922}{2}{2}{dK}{3}
\sbb{184}{944}{231}{964}{dY}\dg{194}{958}{2}{2}{dY}{3}
\bk{189}{971}{228}{997}{cLd}\dg{197}{977}{4}{1}{dM}{4}\fill[cPl] (190,983) rectangle (227,992);\dg{206}{985}{2}{2}{dO}{3}\fill[dM] (210,995) circle (1.3);
\bk{173}{1025}{204}{1040}{cLe}\dg{182}{1031}{3}{2}{dY}{3.4}
\ssb{173}{1050}{203}{1062}{dB}
% big inner block
\bk{238}{779}{507}{1030}{cLd}
\bk{238}{829}{438}{1005}{cLe}
\fill[cPl] (239,891) rectangle (371,986);
\foreach \a/\b/\c/\d/\e in {281/893/324/899/dY,328/893/370/899/dU,272/903/315/909/dG,318/903/363/909/dP,258/913/306/919/dK,308/913/355/919/dM,251/922/296/928/dX,299/922/347/928/dC,243/932/286/938/dB,289/932/338/938/dO,254/942/313/948/dO,316/942/362/948/dM,239/951/279/957/dV,283/951/332/957/dR,239/961/279/967/dY,283/961/333/967/dL,283/971/331/977/dT,283/980/326/986/dA}{\pb{\a}{\b}{\c}{\d}{\e}}
\fill[cPl] (358,832) rectangle (438,885);
\fill[cPb] (396,834) rectangle (438,850);\dg{411}{838}{4}{3}{dY}{3.4}
\dg{384}{849}{2}{1}{dR}{6}
\fill[cPb] (359,854) rectangle (408,862);\fill[dG] (392,858) circle (1.3);
\fill[cPb] (359,863) rectangle (408,872);\dg{383}{865}{2}{2}{dX}{3}
\fill[cPb] (382,877) rectangle (425,885);\dg{401}{879}{2}{2}{dB}{3}
\fill[cPl] (269,873) rectangle (308,885);\dg{282}{875}{3}{3}{dY}{3.4}
\fill[cPl] (312,873) rectangle (352,885);\dg{326}{875}{3}{3}{dA}{3.4}
\dg{245}{875}{2}{1}{dV}{6}\dg{250}{883}{3}{1}{dV}{6}
\dg{252}{991}{9}{1}{dV}{6}
\fill[cPl] (306,992) rectangle (340,1005);\dg{317}{994}{3}{3}{dU}{3.4}
\fill[cPl] (346,992) rectangle (385,1002);\dg{361}{995}{2}{2}{dT}{3.4}
\bk{444}{782}{507}{812}{cLe}
\fill[cPl] (468,787) rectangle (506,793);\dg{484}{790}{2}{1}{dC}{3}
\dg{452}{786}{4}{2}{dK}{4}
\fill[cPl] (444,795) rectangle (481,803);\dg{460}{797}{2}{2}{dP}{3}
\dg{452}{806}{6}{1}{dK}{4.2}
\bk{335}{1020}{370}{1029}{cLe}\fill[cPl] (336,1024) rectangle (369,1029);\dg{350}{1026}{2}{1}{dL}{3}
% right column of bottom-left cluster
\sbb{515}{778}{583}{801}{dY}\dg{530}{793}{2}{2}{dR}{3}
\sbb{515}{807}{582}{861}{dV}\bk{548}{810}{580}{825}{cLe}\dg{557}{813}{3}{3}{dC}{3.4}\bk{518}{832}{543}{853}{cLe}\dg{519}{834}{7}{6}{dP}{3.5}\fill[cPl] (550,853) rectangle (580,859);\fill[dY] (565,856) circle (1.3);
\sbb{515}{868}{588}{926}{dB}\bk{562}{870}{588}{893}{cLe}\dg{565}{874}{6}{5}{dB}{3.8}
\fill[cPl] (516,896) rectangle (560,920);\dg{520}{900}{7}{1}{dG}{4.5}\dg{538}{907}{3}{3}{dX}{3.4}\dg{520}{923}{5}{1}{dG}{5}
\sbb{515}{936}{592}{985}{dT}\bk{516}{956}{548}{977}{cLe}\dg{519}{959}{7}{5}{dX}{3.6}\bk{554}{965}{590}{974}{cLe}\dg{568}{968}{2}{2}{dB}{3}\bk{547}{940}{587}{952}{cLe}\dg{565}{943}{2}{2}{dT}{3.4}
\bk{515}{995}{602}{1045}{cLc}\bk{516}{1010}{574}{1045}{cLe}\fill[cPl] (541,1015) rectangle (573,1028);\dg{553}{1017}{3}{3}{dV}{3.4}\fill[cPl] (516,1029) rectangle (548,1041);\dg{528}{1031}{3}{3}{dL}{3.4}
\dg{523}{1025}{4}{1}{dC}{4.5}\dg{520}{1043}{5}{1}{dC}{6}\bk{535}{996}{558}{1005}{cLe}\dg{545}{999}{2}{2}{dY}{3}
% bottom row of bottom-left cluster
\sbb{211}{1035}{271}{1068}{dB}\dg{252}{1040}{3}{3}{dX}{3.4}\dg{226}{1055}{3}{3}{dB}{3.4}
\sbb{282}{1035}{345}{1068}{dX}\dg{290}{1050}{5}{5}{dX}{3.2}
\sbb{374}{1040}{435}{1068}{dA}\dg{384}{1053}{5}{4}{dB}{3.4}
\sbb{445}{1036}{498}{1079}{dO}\dg{454}{1053}{4}{4}{dK}{3.6}\dg{480}{1040}{3}{3}{dO}{3.4}
\sbb{504}{1055}{558}{1090}{dK}\dg{536}{1059}{4}{3}{dM}{3.4}\fill[dO] (538,1085) circle (1.3);
\sbb{564}{1070}{628}{1095}{dG}\dg{607}{1074}{2}{2}{dY}{3}\dg{588}{1088}{2}{1}{dG}{3}
\sbb{184}{1075}{244}{1095}{dP}\fill[dC] (226,1081) circle (1.3);\dg{200}{1087}{2}{2}{dP}{3}
\sbb{254}{1077}{319}{1095}{dO}\fill[dM] (300,1082) circle (1.3);
\sbb{325}{1077}{358}{1090}{dY}\dg{337}{1080}{3}{2}{dY}{3}
\sbb{374}{1078}{434}{1100}{dO}\dg{414}{1082}{2}{1}{dK}{3}\dg{389}{1092}{2}{2}{dO}{3}
\sbb{445}{1085}{479}{1100}{dC}\dg{455}{1090}{3}{3}{dC}{3}
\bk{488}{1096}{523}{1111}{cLe}\dg{499}{1100}{3}{3}{dR}{3.4}
\bk{162}{1104}{192}{1116}{cLe}\dg{172}{1108}{2}{2}{dR}{3.4}
\bk{200}{1101}{231}{1116}{cLe}\dg{205}{1104}{4}{3}{dL}{3.4}
\bk{282}{1104}{312}{1116}{cLe}\dg{292}{1107}{2}{2}{dL}{3.4}
% bottom stray
\ssb{412}{1152}{436}{1158}{dK}
\foreach \xx in {466,502,538} \fill[red] (\xx,1157) circle (1.4);
% ===== hub, dots, connectors =====
\node[circle,fill=red,minimum size=14pt,inner sep=0pt] (hub) at (1036,660) {};
\foreach \yy in {607,636,694,723,752,781,810,839,868,897,926,955,984,1013,1042,1071,1100,1129,1157} \fill[red] (1030,\yy) circle (1.6);
\foreach \xx in {582,611,640,669,698,727,756,785,814,843,872,901,930,958,987,1016} \fill[red] (\xx,1186) circle (1.6);
\coordinate (gc) at (507,193);
\foreach \tx/\ty in {645/692,645/705,645/722,645/745,628/760,622/796,619/812,624/829,628/845,627/861,588/900,592/960,602/1020,628/1080,609/1102,665/1150,540/662,440/655,300/648,161/642,660/520,700/430,760/350,1100/305,985/330,950/325,161/675,420/700,505/1000}{\draw[link] (hub) -- (\tx,\ty);}
\foreach \tx/\ty in {470/640,540/600,560/640,566/690,600/760,430/290,380/660,520/300,495/600,590/850,320/700,245/640}{\draw[link] (gc) -- (\tx,\ty);}
\foreach \ax/\ay/\bx/\by in {682/270/996/60,682/180/996/120,690/300/780/200,1016/80/1344/40,1016/90/1230/70,422/135/654/120,422/170/654/145,333/300/660/330,161/500/420/290,161/560/660/330,161/600/330/330,430/305/640/480,850/120/940/300}{\draw[link] (\ax,\ay) -- (\bx,\by);}
\end{tikzpicture}
\end{document}
